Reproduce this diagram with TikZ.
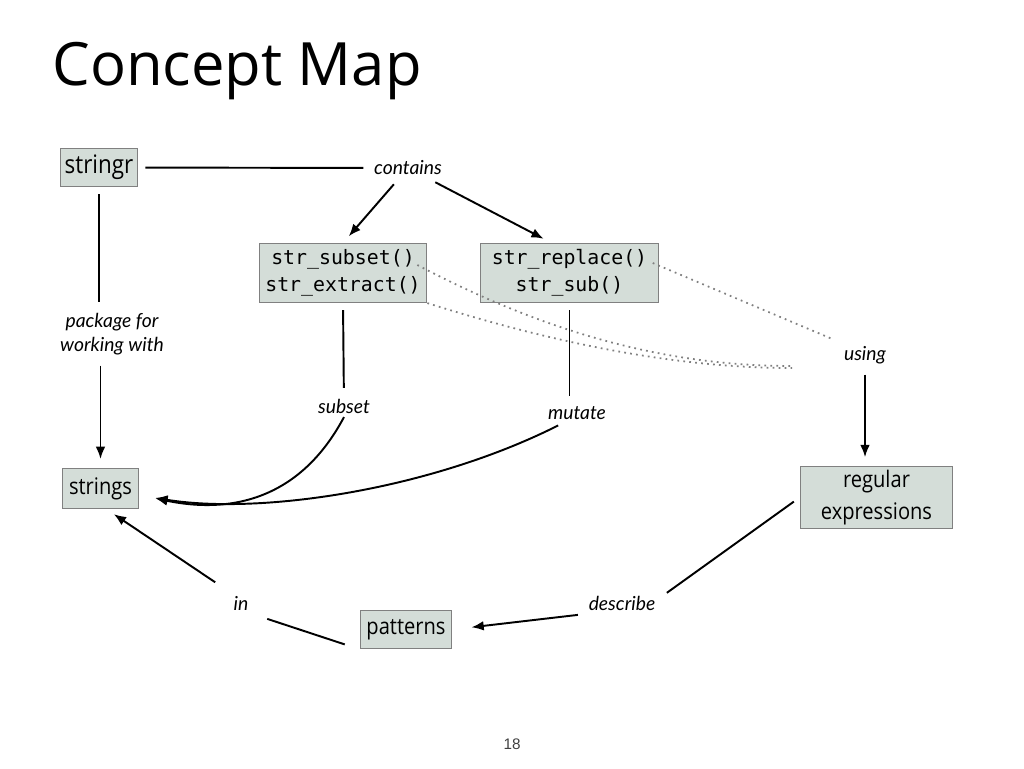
\documentclass[tikz,border=0pt]{standalone}
\usepackage{fontspec}
\setmainfont{Open Sans}
\setmonofont{DejaVu Sans Mono}
\newfontfamily\boxfont{Open Sans}[FakeStretch=0.88]
\newfontfamily\labelfont{Lato}
\newfontfamily\pagefont{Liberation Sans}
\usetikzlibrary{calc,arrows.meta}
\definecolor{boxfill}{HTML}{D4DDD8}
\definecolor{boxline}{HTML}{808080}
\def\fsize#1#2{\fontsize{#1}{#2}\selectfont}
\tikzset{
	concept/.style={draw=boxline, line width=0.6pt, fill=boxfill, inner xsep=3.5pt, inner ysep=3.5pt, minimum height=22pt, align=center, font=\boxfont\fsize{13}{15.3}},
	func/.style={concept, font=\ttfamily\fsize{11.3}{13}},
	linkword/.style={inner sep=2pt, align=center, font=\labelfont\itshape\fsize{11}{13.6}},
	link/.style={line width=1.1pt, shorten <=4pt, shorten >=4pt},
	arrow/.style={link, shorten >=5pt, -{Latex[length=7pt,width=5.5pt]}},
	using link/.style={gray, line width=1pt, dash pattern=on 1pt off 2.4pt}
}

\begin{document}
\begin{tikzpicture}[x=0.02cm, y=-0.02cm]
		%%%%% START %%%%%
		
		\useasboundingbox[fill=white] (0,0) rectangle (1024,768);
		
		\node[anchor=base west, inner sep=0, font=\fsize{34}{40}] (title) at (52,85) {Concept Map};
		
		% concepts
		\node[concept, inner xsep=2.5pt, font=\boxfont\fsize{14.5}{16}] (stringr) at (99,167.5) {stringr};
		\node[func] (subsetbox) at (343,273) {str\_subset()\\[2.4pt]str\_extract()};
		\node[func, minimum width=101pt] (replacebox) at (569.5,273) {str\_replace()\\[2.4pt]str\_sub()};
		\node[concept, minimum height=23pt] (strings) at (100.5,488.5) {strings};
		\node[concept, inner ysep=2pt, minimum width=87pt] (regex) at (876.5,497.5) {regular\\[3pt]expressions};
		\node[concept] (patterns) at (406,629.5) {patterns};
		
		% linking words
		\node[linkword] (contains) at (408,168) {contains};
		\node[linkword] (pkgfor) at (112,334) {package for\\working with};
		\node[linkword] (using) at (865,355) {using};
		\node[linkword] (subset) at (344,406) {subset};
		\node[linkword] (mutate) at (577,413) {mutate};
		\node[linkword] (inlabel) at (241,603) {in};
		\node[linkword] (describe) at (622,603) {describe};
		
		\coordinate (usingtail) at (792,366);
		
		% links
		\draw[link] (stringr) -- (contains);
		\draw[arrow] (contains) -- (subsetbox.north);
		\draw[arrow] (contains) -- ($(replacebox.north)+(-18,0)$);
		\draw[link] (stringr.south) -- (stringr.south |- pkgfor.north);
		\draw[arrow] (strings.north |- pkgfor.south) -- (strings.north);
		
		\draw[link] (subsetbox.south) -- (subset);
		\draw[arrow, shorten <=0pt] (subset.south) .. controls (300,500) and (230,514) .. ($(strings.east)+(8,8)$);
		\draw[link] (replacebox.south) -- (replacebox.south |- mutate.north);
		\draw[arrow, shorten <=0pt] ($(mutate.south west)+(14,2)$) .. controls (430,490) and (260,515) .. ($(strings.east)+(8,8)$);
		
		\draw[arrow] (using) -- (using |- regex.north);
		\draw[link] (regex.west) -- ($(describe.north east)+(2,5)$);
		\draw[arrow, shorten >=11pt] (describe.south west) -- (patterns.east);
		\draw[link, shorten <=9pt, shorten >=9pt] (patterns.south west) -- (inlabel.south east);
		\draw[arrow, shorten <=10pt] (inlabel.north west) -- ($(strings.south)+(6,0)$);
		
		% using
		\draw[using link] ($(subsetbox.east)+(-10,-8)$) .. controls (560,340) and (680,366) .. (usingtail);
		\draw[using link] (subsetbox.south east) .. controls (560,345) and (680,368) .. ($(usingtail)+(0,2)$);
		\draw[using link, shorten >=4pt] ($(replacebox.east)+(-6,-10)$) -- (using.north west);
		
		\node[font=\pagefont\fsize{8.7}{10}, text=black!75] (pagenum) at (512,744) {18};
		
		%%%%% END %%%%%
\end{tikzpicture}
\end{document}
